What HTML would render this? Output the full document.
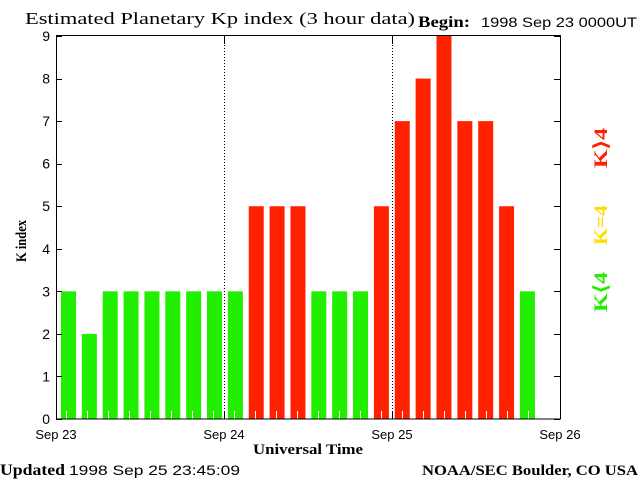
<!DOCTYPE html>
<html><head><meta charset="utf-8"><style>
body{margin:0;background:#fff;}
svg{display:block;}
.serif{font-family:"Liberation Serif",serif;}
.sans{font-family:"Liberation Sans",sans-serif;}
</style></head><body>
<svg id="chart" width="640" height="480" viewBox="0 0 640 480">
<rect width="640" height="480" fill="#fff"/>
<text x="25" y="24" class="serif" font-size="17" textLength="390" lengthAdjust="spacingAndGlyphs">Estimated Planetary Kp index (3 hour data)</text>
<text x="418" y="27" class="serif" font-size="16" font-weight="bold" textLength="52" lengthAdjust="spacingAndGlyphs">Begin:</text>
<text x="481" y="27" class="sans" font-size="14" textLength="156" lengthAdjust="spacingAndGlyphs">1998 Sep 23 0000UT</text>
<g id="bars"></g>
<g id="axes"></g>
<text transform="translate(26,241) rotate(-90)" text-anchor="middle" class="serif" font-size="15" font-weight="bold" textLength="42" lengthAdjust="spacingAndGlyphs">K index</text>
<text x="253" y="454" class="serif" font-size="15" font-weight="bold" textLength="110" lengthAdjust="spacingAndGlyphs">Universal Time</text>
<text x="0" y="475" class="serif" font-size="16" font-weight="bold" textLength="65" lengthAdjust="spacingAndGlyphs">Updated</text>
<text x="69" y="475" class="sans" font-size="14" textLength="171" lengthAdjust="spacingAndGlyphs">1998 Sep 25 23:45:09</text>
<text x="422" y="475" class="serif" font-size="15" font-weight="bold" textLength="216" lengthAdjust="spacingAndGlyphs">NOAA/SEC Boulder, CO USA</text>
<text transform="translate(607,312) rotate(-90)" class="serif" font-size="19" font-weight="bold" fill="#22ee00" textLength="40" lengthAdjust="spacingAndGlyphs">K⟨4</text>
<text transform="translate(607,245) rotate(-90)" class="serif" font-size="19" font-weight="bold" fill="#ffdd00" textLength="40" lengthAdjust="spacingAndGlyphs">K=4</text>
<text transform="translate(607,168) rotate(-90)" class="serif" font-size="19" font-weight="bold" fill="#ff2200" textLength="40" lengthAdjust="spacingAndGlyphs">K⟩4</text>
</svg>
<script>
const kValues=[3,2,3,3,3,3,3,3,3,5,5,5,3,3,3,5,7,8,9,7,7,5,3];
const yTicks=[0,1,2,3,4,5,6,7,8,9];
const dayLabels=["Sep 23","Sep 24","Sep 25","Sep 26"];
const NS="http://www.w3.org/2000/svg";
const L=56,R=560,T=36,B=419,SLOTS=24;
const xs=i=>L+(R-L)*i/SLOTS;
const ys=v=>B-(B-T)*v/9;
function mk(tag,attrs,parent){const e=document.createElementNS(NS,tag);for(const k in attrs)e.setAttribute(k,attrs[k]);parent.appendChild(e);return e;}
const bars=document.getElementById('bars'),axes=document.getElementById('axes');
const slotW=(R-L)/SLOTS;
kValues.forEach((v,i)=>{
  const col=v<4?'#22ee00':(v==4?'#ffdd00':'#ff2200');
  const bx=xs(i)+5-i*0.14;
  const r=mk('rect',{x:bx,y:ys(v),width:15,height:B-ys(v),fill:col},bars);
  
  
  const t=mk('line',{x1:xs(i)+slotW/2,x2:xs(i)+slotW/2,y1:B,y2:B-8,stroke:'#fff','stroke-width':1},bars);
  
  
});
const frame=mk('rect',{x:L+0.5,y:T-0.5,width:R-L,height:B-T+0.5,fill:'none',stroke:'#000','stroke-width':1},axes);


yTicks.forEach(v=>{
  const y=Math.round(ys(v))+0.5;
  mk('line',{x1:L,x2:L+6,y1:y,y2:y,stroke:'#000'},axes);
  mk('line',{x1:R-6,x2:R,y1:y,y2:y,stroke:'#000'},axes);
  const tx=mk('text',{x:L-6,y:ys(v)+5,'text-anchor':'end','font-family':'Liberation Sans,sans-serif','font-size':14},axes);
  tx.textContent=v;
  
  
});
dayLabels.forEach((d,i)=>{
  const x=Math.round(xs(i*8))+0.5;
  if(i>0&&i<3){
    const dl=mk('line',{x1:x,x2:x,y1:T,y2:B,stroke:'#000','stroke-dasharray':'1,2'},axes);
    
    
    mk('line',{x1:x,x2:x,y1:T,y2:T+8,stroke:'#000'},axes);
    mk('line',{x1:x,x2:x,y1:B-8,y2:B,stroke:'#000'},axes);
  }
  const tx=mk('text',{x:xs(i*8),y:439,'text-anchor':'middle','font-family':'Liberation Sans,sans-serif','font-size':13},axes);
  tx.textContent=d;
  
  
});
</script>
</body></html>
